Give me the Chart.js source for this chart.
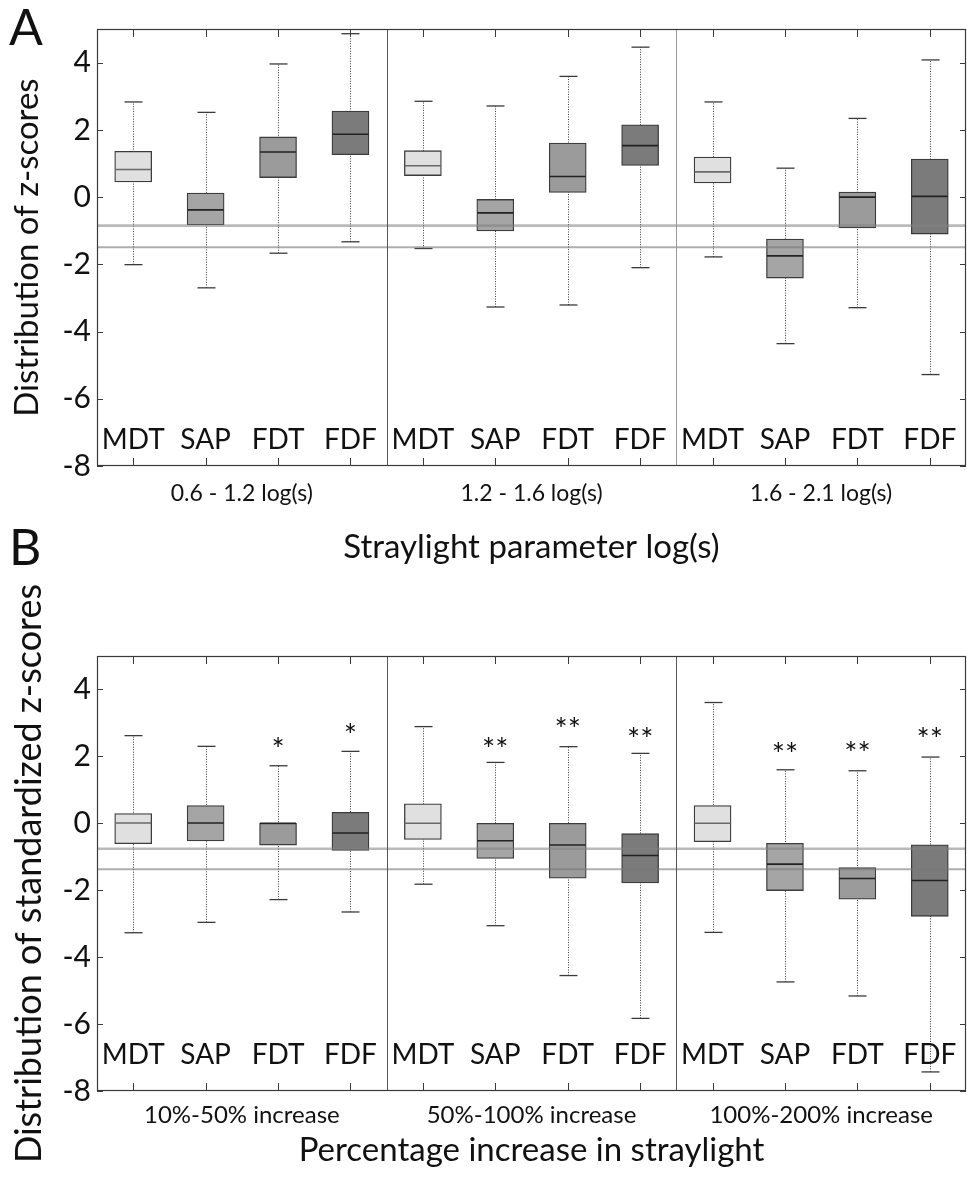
<!DOCTYPE html>
<html><head><meta charset="utf-8">
<script src="https://cdn.jsdelivr.net/npm/chart.js@4/dist/chart.umd.min.js"></script>
<style>
html,body{margin:0;padding:0;background:#fff;}
#wrap{position:relative;width:967px;height:1180px;overflow:hidden;}
canvas{position:absolute;left:0;}
#cA{top:0;}
#cB{top:520px;}
</style></head><body>
<div id="wrap"><canvas id="cA" width="967" height="580"></canvas><canvas id="cB" width="967" height="660"></canvas></div>
<script>
// ---------- data ----------
const categories = ['MDT','SAP','FDT','FDF','MDT','SAP','FDT','FDF','MDT','SAP','FDT','FDF'];
const yTicks = [-8,-6,-4,-2,0,2,4];

const groupsA = ['0.6 - 1.2 log(s)','1.2 - 1.6 log(s)','1.6 - 2.1 log(s)'];
const lowA  = [-2.01,-2.70,-1.67,-1.33, -1.53,-3.27,-3.21,-2.10, -1.78,-4.36,-3.29,-5.28];
const q1A   = [ 0.45,-0.83, 0.58, 1.26,  0.64,-1.01, 0.14, 0.94,  0.42,-2.41,-0.92,-1.10];
const medA  = [ 0.82,-0.38, 1.34, 1.87,  0.93,-0.47, 0.61, 1.53,  0.75,-1.75, 0.00, 0.02];
const q3A   = [ 1.36, 0.12, 1.79, 2.56,  1.38,-0.07, 1.61, 2.15,  1.19,-1.25, 0.15, 1.13];
const highA = [ 2.83, 2.52, 3.96, 4.86,  2.85, 2.71, 3.59, 4.46,  2.83, 0.86, 2.34, 4.08];
const refA  = [-0.85,-1.49];
const sigA  = ['','','','', '','','','', '','','',''];
const sigYA = [null,null,null,null, null,null,null,null, null,null,null,null];

const groupsB = ['10%-50% increase','50%-100% increase','100%-200% increase'];
const lowB  = [-3.27,-2.96,-2.28,-2.65, -1.82,-3.06,-4.55,-5.83, -3.26,-4.74,-5.16,-7.43];
const q1B   = [-0.61,-0.53,-0.65,-0.81, -0.48,-1.05,-1.64,-1.78, -0.55,-2.01,-2.27,-2.78];
const medB  = [ 0.01, 0.01, 0.00,-0.29,  0.00,-0.52,-0.65,-0.96,  0.00,-1.22,-1.65,-1.71];
const q3B   = [ 0.29, 0.53, 0.00, 0.33,  0.58, 0.00, 0.00,-0.31,  0.53,-0.60,-1.32,-0.64];
const highB = [ 2.62, 2.30, 1.72, 2.15,  2.89, 1.82, 2.29, 2.09,  3.61, 1.60, 1.57, 1.98];
const refB  = [-0.76,-1.37];
const sigB  = ['','','*','*', '','**','**','**', '','**','**','**'];
const sigYB = [null,null,2.43,2.85, null,2.44,3.04,2.74, null,2.29,2.31,2.74];

// ---------- style ----------
const FONT = 'Lato, "Open Sans", sans-serif';
const fillColors = ['#e0e0e0','#a5a5a5','#9b9b9b','#7b7b7b'];
const medianColors = ['#6a6a6a','#222','#222','#222'];

function boxPlugin(p) {
  return {
    id: 'box' + p.letter,
    beforeDatasetsDraw(chart) {
      const ctx = chart.ctx, xs = chart.scales.x, ys = chart.scales.y;
      ctx.save();
      ctx.strokeStyle = '#3a3a3a';
      ctx.lineWidth = 1;
      ctx.setLineDash([1, 1.5]);
      p.low.forEach((lo, i) => {
        const x = Math.round(xs.getPixelForValue(i)) + 0.5;
        ctx.beginPath();
        ctx.moveTo(x, ys.getPixelForValue(lo));
        ctx.lineTo(x, ys.getPixelForValue(p.high[i]));
        ctx.stroke();
      });
      ctx.setLineDash([]);
      ctx.lineWidth = 1.3;
      p.low.forEach((lo, i) => {
        const x = Math.round(xs.getPixelForValue(i)) + 0.5;
        [lo, p.high[i]].forEach(v => {
          const y = ys.getPixelForValue(v);
          ctx.beginPath(); ctx.moveTo(x - 9, y); ctx.lineTo(x + 9, y); ctx.stroke();
        });
      });
      ctx.restore();
    },
    afterDatasetsDraw(chart) {
      const ctx = chart.ctx, xs = chart.scales.x, ys = chart.scales.y, a = chart.chartArea;
      ctx.save();
      // medians
      p.med.forEach((m, i) => {
        const x = xs.getPixelForValue(i), y = ys.getPixelForValue(m);
        ctx.strokeStyle = medianColors[i % 4];
        ctx.lineWidth = 1.6;
        ctx.beginPath(); ctx.moveTo(x - 18, y); ctx.lineTo(x + 18, y); ctx.stroke();
      });
      // reference lines
      p.refs.forEach((r, k) => {
        const y = ys.getPixelForValue(r);
        ctx.strokeStyle = k === 0 ? 'rgba(130,130,130,0.55)' : 'rgba(120,120,120,0.6)';
        ctx.lineWidth = k === 0 ? 2.6 : 2;
        ctx.beginPath(); ctx.moveTo(a.left, y); ctx.lineTo(a.right, y); ctx.stroke();
      });
      // group dividers
      [3, 7].forEach((g, k) => {
        const x = Math.round((xs.getPixelForValue(g) + xs.getPixelForValue(g + 1)) / 2) + 0.5;
        ctx.strokeStyle = p.dividerColors[k];
        ctx.lineWidth = 1;
        ctx.beginPath(); ctx.moveTo(x, a.top); ctx.lineTo(x, a.bottom); ctx.stroke();
      });
      // frame
      ctx.strokeStyle = '#3a3a3a';
      ctx.lineWidth = 1.2;
      ctx.strokeRect(a.left + 0.5, a.top + 0.5, a.right - a.left - 1, a.bottom - a.top - 1);
      // inward ticks
      ctx.lineWidth = 1;
      yTicks.forEach(v => {
        const y = Math.round(ys.getPixelForValue(v)) + 0.5;
        ctx.beginPath(); ctx.moveTo(a.left, y); ctx.lineTo(a.left + 6, y); ctx.stroke();
        ctx.beginPath(); ctx.moveTo(a.right, y); ctx.lineTo(a.right - 6, y); ctx.stroke();
      });
      categories.forEach((c, i) => {
        const x = Math.round(xs.getPixelForValue(i)) + 0.5;
        ctx.beginPath(); ctx.moveTo(x, a.top); ctx.lineTo(x, a.top + 8); ctx.stroke();
        ctx.beginPath(); ctx.moveTo(x, a.bottom); ctx.lineTo(x, a.bottom - 8); ctx.stroke();
      });
      // category labels inside plot
      ctx.fillStyle = '#111';
      ctx.font = '28px ' + FONT;
      ctx.textAlign = 'center';
      ctx.textBaseline = 'middle';
      categories.forEach((c, i) => {
        ctx.fillText(c, xs.getPixelForValue(i), ys.getPixelForValue(p.labelValue));
      });
      // significance stars
      ctx.font = '31px ' + FONT;
      ctx.textBaseline = 'alphabetic';
      p.sig.forEach((s, i) => {
        if (!s) return;
        const m = ctx.measureText(s);
        const yc = ys.getPixelForValue(p.sigY[i]);
        ctx.fillText(s, xs.getPixelForValue(i), yc + (m.actualBoundingBoxAscent - m.actualBoundingBoxDescent) / 2);
      });
      // panel letter
      ctx.textAlign = 'left';
      ctx.font = '50px ' + FONT;
      ctx.fillText(p.letter, 9, p.letterBaseline);
      ctx.restore();
    }
  };
}

function build(canvas, p) {
  new Chart(canvas, {
    type: 'bar',
    data: {
      labels: categories,
      datasets: [{
        data: p.q1.map((v, i) => [v, p.q3[i]]),
        backgroundColor: categories.map((c, i) => fillColors[i % 4]),
        borderColor: '#3c3c3c',
        borderWidth: 1.3,
        borderSkipped: false,
        barThickness: 37,
        xAxisID: 'x', yAxisID: 'y'
      }]
    },
    options: {
      responsive: false, animation: false, devicePixelRatio: 1,
      layout: { padding: { top: p.padTop, right: 1, left: 0, bottom: 0 } },
      plugins: { legend: { display: false }, tooltip: { enabled: false } },
      scales: {
        x: { type: 'category', display: false, offset: true },
        x2: {
          type: 'category', labels: p.groups, offset: true, position: 'bottom',
          grid: { display: false, drawTicks: false }, border: { display: false },
          ticks: { font: { family: FONT, size: p.groupSize }, color: '#111', padding: p.groupPad, maxRotation: 0, autoSkip: false },
          title: { display: true, text: p.xTitle, font: { family: FONT, size: 33 }, color: '#111', padding: { top: 0, bottom: p.titlePad } },
          afterFit: s => { s.height = p.x2Height; }
        },
        y: {
          type: 'linear', min: -8, max: 5,
          afterBuildTicks: s => { s.ticks = yTicks.map(v => ({ value: v })); },
          grid: { display: false, drawTicks: false }, border: { display: false },
          ticks: { font: { family: FONT, size: 30 }, color: '#111', padding: 6 },
          title: { display: true, text: p.yTitle, font: { family: FONT, size: p.yTitleSize }, color: '#111', padding: { top: 8, bottom: 0 } },
          afterFit: s => { s.width = 97; }
        }
      }
    },
    plugins: [boxPlugin(p)]
  });
}

build(document.getElementById('cA'), {
  letter: 'A', letterBaseline: 45, low: lowA, q1: q1A, med: medA, q3: q3A, high: highA,
  refs: refA, sig: sigA, sigY: sigYA, groups: groupsA,
  xTitle: 'Straylight parameter log(s)', yTitle: 'Distribution of z-scores',
  padTop: 29, x2Height: 114, groupPad: 14, groupSize: 23, titlePad: 13, labelValue: -7.23,
  yTitleSize: 33, dividerColors: ['#555', '#9a9a9a']
});
build(document.getElementById('cB'), {
  letter: 'B', letterBaseline: 45, low: lowB, q1: q1B, med: medB, q3: q3B, high: highB,
  refs: refB, sig: sigB, sigY: sigYB, groups: groupsB,
  xTitle: 'Percentage increase in straylight', yTitle: 'Distribution of standardized z-scores',
  padTop: 136, x2Height: 89, groupPad: 10, groupSize: 24, titlePad: 10, labelValue: -6.93,
  yTitleSize: 36, dividerColors: ['#555', '#555']
});
</script>
</body></html>
